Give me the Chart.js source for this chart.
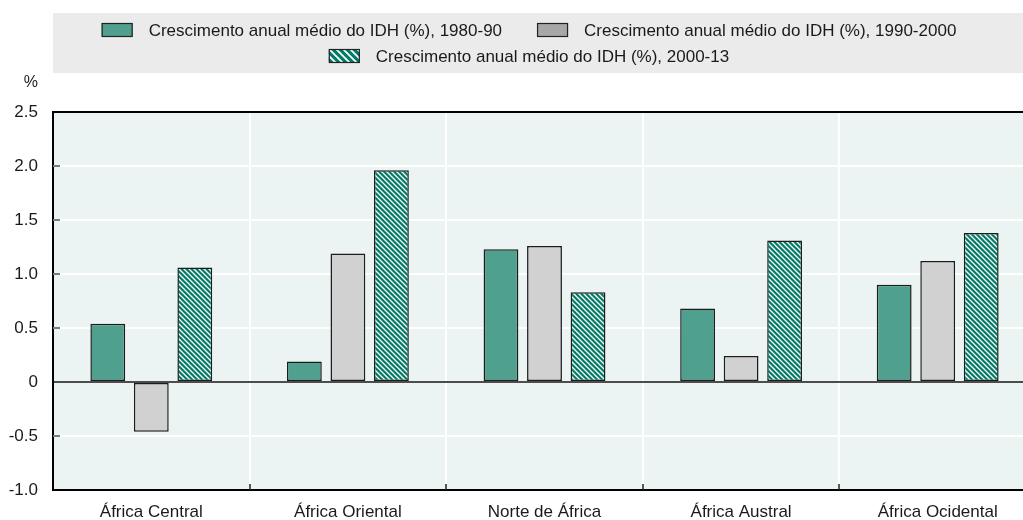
<!DOCTYPE html>
<html>
<head>
<meta charset="utf-8">
<script src="https://cdn.jsdelivr.net/npm/chart.js@4.4.1/dist/chart.umd.min.js"></script>
<style>
  html, body { margin: 0; padding: 0; background: #ffffff; overflow: hidden; }
  #wrap { width: 1058px; height: 520px; }
</style>
</head>
<body>
<div id="wrap"><canvas id="c" width="1058" height="520"></canvas></div>
<script>
// ---- data ----
const categories = ['África Central', 'África Oriental', 'Norte de África', 'África Austral', 'África Ocidental'];
const seriesLabels = [
  'Crescimento anual médio do IDH (%), 1980-90',
  'Crescimento anual médio do IDH (%), 1990-2000',
  'Crescimento anual médio do IDH (%), 2000-13'
];
const growth1980_90   = [0.54, 0.19, 1.23, 0.68, 0.90];
const growth1990_2000 = [-0.46, 1.19, 1.26, 0.24, 1.12];
const growth2000_13   = [1.06, 1.96, 0.83, 1.31, 1.38];
const yMin = -1.0, yMax = 2.5, yStep = 0.5;
const yUnit = '%';

// ---- styles ----
const FONT = '"Liberation Sans", Arial, sans-serif';
const TEAL = '#50a08f';
const GREY = '#d1d1d1';
const DARK_TEAL = '#007b66';

function makeHatch(size, lw) {
  const c = document.createElement('canvas');
  c.width = size; c.height = size;
  const x = c.getContext('2d');
  x.fillStyle = DARK_TEAL;
  x.fillRect(0, 0, size, size);
  x.strokeStyle = '#ffffff';
  x.lineWidth = lw;
  x.beginPath();
  for (let k = -1; k <= 1; k++) {
    x.moveTo(k * size - 1, -1);
    x.lineTo(k * size + size + 1, size + 1);
  }
  x.stroke();
  return x.createPattern(c, 'repeat');
}
const hatchBar = makeHatch(5, 1.3);
const hatchLegend = makeHatch(7, 1.8);

const legendSwatches = [TEAL, '#a7a7a7', hatchLegend];

const bgPlugin = {
  id: 'bgPlugin',
  beforeDraw(chart) {
    const { ctx, chartArea: a, width } = chart;
    ctx.save();
    // plot background
    ctx.fillStyle = '#ebf4f2';
    ctx.fillRect(a.left, a.top, a.right - a.left, a.bottom - a.top);
    // legend band
    ctx.fillStyle = '#ebebeb';
    ctx.fillRect(a.left, 13, width - a.left, 60);
    // legend items
    ctx.font = '17px ' + FONT;
    ctx.textBaseline = 'middle';
    ctx.textAlign = 'left';
    const boxW = 31, boxH = 14, gapText = 16, gapItem = 35;
    const maxW = width - a.left - 40;
    const items = chart.data.datasets.map((d, i) => ({
      label: d.label, fill: legendSwatches[i],
      w: boxW + gapText + ctx.measureText(d.label).width
    }));
    const rows = [[]];
    let cur = 0;
    items.forEach(it => {
      const add = (rows[rows.length - 1].length ? gapItem : 0) + it.w;
      if (cur + add > maxW && rows[rows.length - 1].length) { rows.push([it]); cur = it.w; }
      else { rows[rows.length - 1].push(it); cur += add; }
    });
    const rowY = [30, 56];
    rows.forEach((row, r) => {
      const total = row.reduce((s, it) => s + it.w, 0) + gapItem * (row.length - 1);
      let x = width / 2 - total / 2;
      const y = rowY[r];
      row.forEach(it => {
        ctx.fillStyle = it.fill;
        ctx.fillRect(x, y - boxH / 2, boxW, boxH);
        ctx.strokeStyle = '#222222';
        ctx.lineWidth = 1.2;
        ctx.strokeRect(x + 0.5, y - boxH / 2 + 0.5, boxW - 1, boxH - 1);
        ctx.fillStyle = '#1a1a1a';
        ctx.fillText(it.label, x + boxW + gapText, y + 1);
        x += it.w + gapItem;
      });
    });
    // unit label
    ctx.textAlign = 'right';
    ctx.fillStyle = '#222222';
    ctx.font = '16px ' + FONT;
    ctx.fillText(yUnit, 38, 83);
    ctx.restore();
  },
  beforeDatasetsDraw(chart) {
    const { ctx, chartArea: a, scales } = chart;
    ctx.save();
    // small ticks on left axis
    ctx.strokeStyle = '#7a7a7a';
    ctx.lineWidth = 2;
    scales.y.ticks.forEach(t => {
      if (t.value === yMin || t.value === yMax || t.value === 0) return;
      const y = Math.round(scales.y.getPixelForValue(t.value));
      ctx.beginPath(); ctx.moveTo(a.left, y); ctx.lineTo(a.left + 7, y); ctx.stroke();
    });
    // small ticks on bottom axis at category boundaries
    ctx.strokeStyle = '#222222';
    ctx.lineWidth = 1.5;
    const n = categories.length;
    for (let i = 1; i < n; i++) {
      const x = Math.round((scales.x.getPixelForValue(i - 1) + scales.x.getPixelForValue(i)) / 2);
      ctx.beginPath(); ctx.moveTo(x, a.bottom); ctx.lineTo(x, a.bottom - 6); ctx.stroke();
    }
    ctx.restore();
  }
};

const barCommon = {
  borderColor: '#1c1c1c',
  borderWidth: 1.5,
  borderSkipped: false,
  barPercentage: 0.8,
  categoryPercentage: 0.664
};

new Chart(document.getElementById('c'), {
  type: 'bar',
  data: {
    labels: categories,
    datasets: [
      Object.assign({ label: seriesLabels[0], data: growth1980_90, backgroundColor: TEAL }, barCommon),
      Object.assign({ label: seriesLabels[1], data: growth1990_2000, backgroundColor: GREY }, barCommon),
      Object.assign({ label: seriesLabels[2], data: growth2000_13, backgroundColor: hatchBar }, barCommon)
    ]
  },
  options: {
    responsive: false,
    devicePixelRatio: 1,
    animation: false,
    layout: { padding: { top: 112, left: 0, right: 22, bottom: 0 } },
    plugins: {
      legend: { display: false },
      tooltip: { enabled: false },
      title: { display: false }
    },
    scales: {
      x: {
        offset: true,
        grid: {
          offset: true,
          drawTicks: false,
          lineWidth: 2,
          color: (c) => (c.index === 0 ? 'rgba(0,0,0,0)' : '#ffffff')
        },
        border: { display: true, color: '#000000', width: 2 },
        ticks: {
          padding: 12,
          color: '#1a1a1a',
          font: { family: FONT, size: 17 },
          maxRotation: 0
        },
        afterFit: (s) => { s.height = 30; }
      },
      y: {
        min: yMin,
        max: yMax,
        grid: {
          drawTicks: false,
          lineWidth: 2,
          color: (c) => {
            const v = c.tick && c.tick.value;
            if (v === 0) return '#4d4d4d';
            if (v === yMax || v === yMin) return '#000000';
            return '#ffffff';
          }
        },
        border: { display: true, color: '#000000', width: 2 },
        ticks: {
          stepSize: yStep,
          padding: 15,
          color: '#1a1a1a',
          font: { family: FONT, size: 17 },
          callback: (v) => (v === 0 ? '0' : Number(v).toFixed(1))
        },
        afterFit: (s) => { s.width = 53; }
      }
    }
  },
  plugins: [bgPlugin]
});
</script>
</body>
</html>
